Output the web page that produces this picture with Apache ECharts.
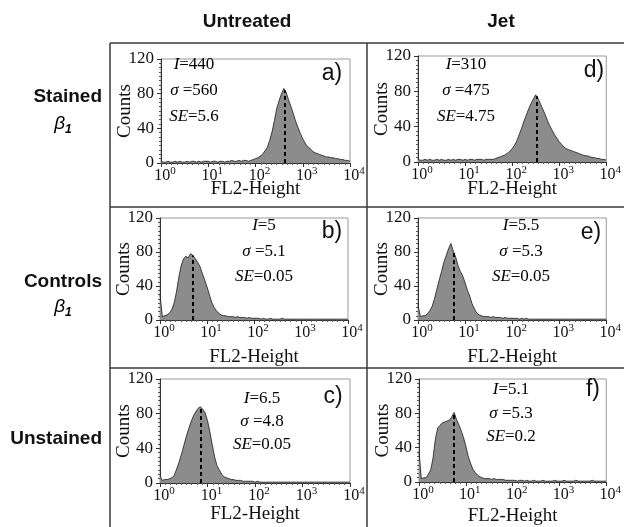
<!DOCTYPE html>
<html>
<head>
<meta charset="utf-8">
<script src="https://cdn.jsdelivr.net/npm/echarts@6/dist/echarts.min.js"></script>
<style>
html, body { margin: 0; padding: 0; background: #fff; }
#chart { width: 624px; height: 527px; }
</style>
</head>
<body>
<div id="chart"></div>
<script>
// x axis is the FL2 channel as a decade exponent: bin i sits at 10^(i*binStep), 0..4
const binStep = 0.05;
const colLabels = ['Untreated', 'Jet'];
const rowLabels = ['Stained', 'Controls', 'Unstained'];
// panel order: a b c (left column), d e f (right column)
const panelLetters = ['a)', 'b)', 'c)', 'd)', 'e)', 'f)'];
const statI = ['440', '5', '6.5', '310', '5.5', '5.1'];
const statSigma = ['560', '5.1', '4.8', '475', '5.3', '5.3'];
const statSE = ['5.6', '0.05', '0.05', '4.75', '0.05', '0.2'];
const medianExp = [2.62, 0.70, 0.86, 2.52, 0.76, 0.74];
const countTicks = [0, 40, 80, 120];
const decadeTicks = [0, 1, 2, 3, 4];

// histogram counts, 81 bins each (exponent 0.00 .. 4.00)
const histA = [
  2,1,1,2,1,1,2,1,2,1,1,2,1,2,2,1,2,1,2,2,
  2,1,2,2,1,2,2,1,2,2,3,2,2,3,2,3,3,2,3,4,
  5,6,8,10,14,18,26,36,49,63,72,80,86,81,73,65,57,48,41,34,
  28,23,19,17,14,12,11,10,9,8,7,7,6,6,5,5,4,4,3,3,
  2];
const histB = [
  30,4,5,6,8,12,20,33,50,64,72,75,73,78,76,72,68,63,55,47,
  39,30,21,15,11,8,6,5,5,4,4,4,3,4,3,3,3,2,3,2,
  2,2,2,1,2,1,1,2,1,1,1,1,2,1,1,1,1,1,1,1,
  1,1,1,1,1,1,1,1,1,1,1,1,1,1,1,1,1,1,1,1,
  1];
const histC = [
  8,3,4,4,5,6,9,16,24,33,43,53,62,70,77,82,86,88,85,81,
  72,59,44,30,20,15,10,7,6,5,4,4,3,3,3,2,2,2,2,2,
  1,2,1,1,1,1,1,1,1,1,1,1,1,1,1,1,1,1,1,1,
  1,1,1,1,1,1,1,1,1,1,1,1,1,1,1,1,1,1,1,1,
  1];
const histD = [
  3,2,2,3,2,3,2,2,3,2,3,2,2,3,2,3,2,3,3,2,
  3,2,3,3,2,3,3,3,2,3,3,3,3,4,5,6,7,8,10,12,
  15,19,24,31,38,46,53,60,66,71,76,72,66,60,54,47,41,36,31,27,
  23,20,17,15,14,13,12,11,10,9,8,7,7,6,5,5,4,4,3,3,
  2];
const histE = [
  18,4,5,5,7,11,16,25,36,47,57,68,76,84,90,81,74,64,57,52,
  44,35,28,19,13,8,6,5,4,4,4,3,4,3,3,3,2,3,2,2,
  2,2,2,1,2,1,2,1,1,1,1,1,1,1,1,1,1,1,1,1,
  1,1,1,1,1,1,1,1,1,1,1,1,1,1,1,1,1,1,1,1,
  1];
const histF = [
  36,4,5,5,9,14,28,50,63,66,69,70,71,72,76,81,73,67,60,52,
  42,30,22,15,11,8,6,5,4,4,4,3,4,3,3,3,3,2,2,2,
  2,2,1,2,2,1,2,1,1,2,1,1,1,2,1,1,1,1,2,1,
  1,1,2,1,1,1,1,2,1,1,1,1,1,1,2,1,1,1,1,1,
  1];
const hists = [histA, histB, histC, histD, histE, histF];

// layout of the six small plots
const panels = [
  { left: 161, top: 59,  width: 189, height: 104, nameGap: 17, statX: 194, statY: 65,  statLh: 26,   letX: 332, letY: 74 },
  { left: 160, top: 218, width: 188, height: 102, nameGap: 28, statX: 264, statY: 226, statLh: 25.5, letX: 332, letY: 232 },
  { left: 160, top: 379, width: 190, height: 104, nameGap: 22, statX: 262, statY: 399, statLh: 23,   letX: 333, letY: 397 },
  { left: 418, top: 56,  width: 190, height: 106, nameGap: 18, statX: 466, statY: 65,  statLh: 26,   letX: 594, letY: 71 },
  { left: 418, top: 218, width: 190, height: 102, nameGap: 28, statX: 521, statY: 226, statLh: 25.5, letX: 591, letY: 233 },
  { left: 419, top: 379, width: 189, height: 104, nameGap: 25, statX: 511, statY: 390, statLh: 23.5, letX: 593, letY: 390 }
];

const serif = '"Liberation Serif", "Times New Roman", serif';
const sans = '"Liberation Sans", Arial, sans-serif';
const ink = '#111';

// height of the histogram under the dashed median line
const topAt = (h, e) => {
  const f = e / binStep, i = Math.floor(f), t = f - i;
  return h[i] + (h[Math.min(i + 1, h.length - 1)] - h[i]) * t;
};

const chart = echarts.init(document.getElementById('chart'), null, { renderer: 'canvas' });

const grid = [], xAxis = [], yAxis = [], series = [], graphic = [];

panels.forEach((p, k) => {
  grid.push({ left: p.left, top: p.top, width: p.width, height: p.height, show: true, borderColor: '#9a9a9a', borderWidth: 1 });
  xAxis.push({
    gridIndex: k, type: 'value',
    min: decadeTicks[0], max: decadeTicks[decadeTicks.length - 1], interval: 1,
    name: 'FL2-Height', nameLocation: 'middle', nameGap: p.nameGap, nameMoveOverlap: false,
    nameTextStyle: { fontFamily: serif, fontSize: 19, color: ink },
    axisLine: { lineStyle: { color: '#333', width: 1 } },
    axisTick: { show: true, length: 4, lineStyle: { color: '#333' } },
    minorTick: { show: true, splitNumber: 9, length: 2, lineStyle: { color: '#555' } },
    splitLine: { show: false },
    axisLabel: {
      margin: 3,
      padding: [0, 0, 0, 8],
      formatter: v => '{b|10}{s|' + v + '}',
      rich: {
        b: { fontFamily: serif, fontSize: 16, color: ink, lineHeight: 18, verticalAlign: 'bottom' },
        s: { fontFamily: serif, fontSize: 11, color: ink, lineHeight: 11, verticalAlign: 'top' }
      }
    }
  });
  yAxis.push({
    gridIndex: k, type: 'value',
    min: countTicks[0], max: countTicks[countTicks.length - 1], interval: 40,
    name: 'Counts', nameLocation: 'middle', nameGap: 26, nameMoveOverlap: false,
    nameTextStyle: { fontFamily: serif, fontSize: 19, color: ink },
    axisLine: { show: true, lineStyle: { color: '#333', width: 1 } },
    axisTick: { show: true, length: 4, lineStyle: { color: '#333' } },
    minorTick: { show: true, splitNumber: 8, length: 2, lineStyle: { color: '#555' } },
    splitLine: { show: false },
    axisLabel: { margin: 7, fontFamily: serif, fontSize: 17, color: ink }
  });
  const h = hists[k];
  const m = medianExp[k];
  series.push({
    type: 'line', xAxisIndex: k, yAxisIndex: k,
    data: h.map((c, i) => [i * binStep, c]),
    showSymbol: false, smooth: false, silent: true,
    lineStyle: { color: '#1a1a1a', width: 0.8 },
    areaStyle: { color: '#8c8c8c', opacity: 1 },
    markLine: {
      silent: true, symbol: 'none', label: { show: false },
      lineStyle: { color: '#000', width: 2, type: [4, 3] },
      data: [[{ coord: [m, 0] }, { coord: [m, topAt(h, m)] }]]
    }
  });
  const statRich = {
    i: { fontFamily: serif, fontSize: 17, fontStyle: 'italic', color: ink, lineHeight: p.statLh },
    n: { fontFamily: serif, fontSize: 17, color: ink, lineHeight: p.statLh }
  };
  graphic.push({
    type: 'text', x: p.statX, y: p.statY - p.statLh / 2, silent: true, z: 10,
    style: {
      text: '{i|I}{n|=' + statI[k] + '}\n{i|σ}{n| =' + statSigma[k] + '}\n{i|SE}{n|=' + statSE[k] + '}',
      rich: statRich, align: 'center', textAlign: 'center', verticalAlign: 'top', textVerticalAlign: 'top'
    }
  });
  graphic.push({
    type: 'text', x: p.letX, y: p.letY, silent: true, z: 10,
    style: {
      text: panelLetters[k], fontFamily: sans, fontSize: 23, fill: ink,
      align: 'center', textAlign: 'center', verticalAlign: 'middle', textVerticalAlign: 'middle'
    }
  });
});

// column headers
[[247, colLabels[0]], [501, colLabels[1]]].forEach(([x, t]) => {
  graphic.push({
    type: 'text', x: x, y: 22, silent: true,
    style: { text: t, fontFamily: sans, fontWeight: 'bold', fontSize: 19, fill: ink,
      align: 'center', textAlign: 'center', verticalAlign: 'middle', textVerticalAlign: 'middle' }
  });
});

// row headers
const rowY = [97, 282, 439];
rowLabels.forEach((t, r) => {
  graphic.push({
    type: 'text', x: 102, y: rowY[r], silent: true,
    style: { text: t, fontFamily: sans, fontWeight: 'bold', fontSize: 19, fill: ink,
      align: 'right', textAlign: 'right', verticalAlign: 'middle', textVerticalAlign: 'middle' }
  });
});
const betaRich = {
  b: { fontFamily: sans, fontSize: 19, fontStyle: 'italic', color: ink, lineHeight: 22, verticalAlign: 'top' },
  s: { fontFamily: sans, fontSize: 12, fontStyle: 'italic', fontWeight: 'bold', color: ink, lineHeight: 22, verticalAlign: 'bottom' }
};
[125, 308].forEach(y => {
  graphic.push({
    type: 'text', x: 63, y: y, silent: true,
    style: { text: '{b|β}{s|1}', rich: betaRich,
      align: 'center', textAlign: 'center', verticalAlign: 'middle', textVerticalAlign: 'middle' }
  });
});

// table rules
const rule = (x1, y1, x2, y2) => ({
  type: 'line', silent: true,
  shape: { x1: x1, y1: y1, x2: x2, y2: y2 },
  style: { stroke: '#3a3a3a', lineWidth: 1.5 }
});
graphic.push(rule(110, 43, 624, 43));
graphic.push(rule(110, 43, 110, 527));
graphic.push(rule(367, 43, 367, 527));
graphic.push(rule(110, 207, 624, 207));
graphic.push(rule(110, 368, 624, 368));

chart.setOption({
  animation: false,
  backgroundColor: '#fff',
  grid: grid,
  xAxis: xAxis,
  yAxis: yAxis,
  series: series,
  graphic: graphic
});
</script>
</body>
</html>
